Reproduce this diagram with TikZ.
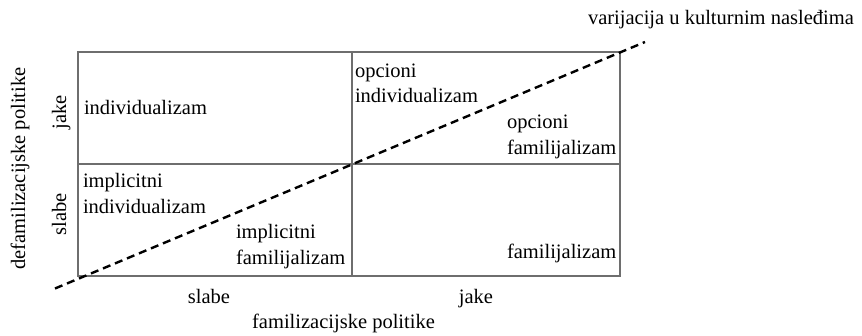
\documentclass[tikz,border=0pt]{standalone}
\usepackage{fontspec}
\setmainfont{Liberation Serif}
\definecolor{gridgray}{RGB}{110,110,110}
\begin{document}
\begin{tikzpicture}[x=1pt,y=-1pt,
  lbl/.style={inner sep=0pt,outer sep=0pt,anchor=base west,font=\fontsize{20.5}{25.5}\selectfont},
  vlbl/.style={inner sep=0pt,outer sep=0pt,anchor=base,rotate=90,font=\fontsize{20.5}{25.5}\selectfont},
  clbl/.style={inner sep=0pt,outer sep=0pt,anchor=base,font=\fontsize{20.5}{25.5}\selectfont},
  gridline/.style={draw=gridgray,line width=1.2pt},
  culture/.style={draw=black,line width=2.4pt,dash pattern=on 8pt off 5pt}]
\useasboundingbox (0,0) rectangle (862,335);
% grid coordinates
\coordinate (tl) at (78,52);
\coordinate (tm) at (352,52);
\coordinate (tr) at (620,52);
\coordinate (ml) at (78,164);
\coordinate (mm) at (352,164);
\coordinate (mr) at (620,164);
\coordinate (bl) at (78,276);
\coordinate (bm) at (352,276);
\coordinate (br) at (620,276);
\draw[gridline] (tl) rectangle (br);
\draw[gridline] (ml) -- (mr);
\draw[gridline] (tm) -- (bm);
% dashed diagonal
\coordinate (ds) at (55,288.5);
\coordinate (de) at (645,42);
\draw[culture] (ds) -- (de);
% cell texts
\node[lbl] (ind) at (84,114) {individualizam};
\node[lbl] (oi1) at (355,77) {opcioni};
\node[lbl] (oi2) at (355,102.5) {individualizam};
\node[lbl] (of1) at (507,128.3) {opcioni};
\node[lbl] (of2) at (507,154.3) {familijalizam};
\node[lbl] (ii1) at (83,187) {implicitni};
\node[lbl] (ii2) at (83,213) {individualizam};
\node[lbl] (if1) at (236,238) {implicitni};
\node[lbl] (if2) at (236,264) {familijalizam};
\node[lbl] (fam) at (507,258.5) {familijalizam};
% axis texts
\node[lbl] (var) at (588,24) {varijacija u kulturnim nasleđima};
\node[vlbl] (defam) at (25,168.5) {defamilizacijske politike};
\node[vlbl] (vjake) at (66,112.5) {jake};
\node[vlbl] (vslabe) at (66,214.5) {slabe};
\node[clbl] (hslabe) at (209,303.3) {slabe};
\node[clbl] (hjake) at (476,303.3) {jake};
\node[clbl] (fampol) at (343.5,328.3) {familizacijske politike};
\end{tikzpicture}
\end{document}
